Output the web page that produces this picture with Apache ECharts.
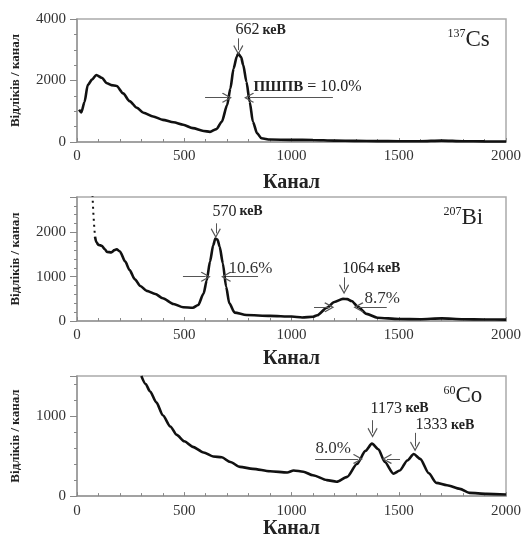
<!DOCTYPE html>
<html><head><meta charset="utf-8">
<script src="https://cdn.jsdelivr.net/npm/echarts@6/dist/echarts.min.js"></script>
<style>html,body{margin:0;padding:0;background:#fff}#c{width:526px;height:540px}</style>
</head><body><div id="c"></div>
<script>
// ---------- data (channel, counts per channel) ----------
const xMin = 0, xMax = 2000, xInterval = 500;

const csChannels = [10, 20, 35, 50, 70, 90, 115, 140, 160, 185, 215, 245, 280, 310, 355, 400, 450, 495, 540, 590, 620, 650, 675, 700, 715, 730, 745, 752, 765, 775, 790, 805, 820, 840, 860, 900, 1000, 1100, 1200, 1300, 1400, 1500, 1600, 1700, 1800, 1900, 2000];
const csCounts   = [1050, 960, 1300, 1850, 2030, 2180, 2090, 1910, 1850, 1820, 1580, 1330, 1110, 950, 830, 720, 640, 560, 450, 360, 330, 420, 660, 1200, 1740, 2390, 2780, 2880, 2760, 2500, 1960, 1310, 660, 280, 120, 80, 70, 65, 45, 35, 30, 25, 25, 45, 25, 20, 15];

const biTailChannels = [72, 76, 80, 84];
const biTailCounts   = [2850, 2450, 2150, 1900];
const biChannels = [84, 90, 100, 115, 130, 140, 160, 175, 185, 200, 225, 245, 270, 295, 325, 365, 400, 450, 495, 540, 565, 590, 605, 620, 635, 645, 655, 665, 680, 695, 710, 735, 790, 900, 1000, 1050, 1100, 1120, 1165, 1200, 1240, 1260, 1280, 1310, 1350, 1400, 1500, 1600, 1700, 1800, 1900, 2000];
const biCounts   = [1900, 1780, 1720, 1700, 1620, 1560, 1550, 1600, 1620, 1570, 1340, 1150, 940, 790, 680, 610, 515, 385, 310, 300, 360, 620, 920, 1340, 1710, 1860, 1840, 1680, 1300, 780, 400, 190, 135, 115, 100, 80, 95, 130, 300, 430, 500, 495, 450, 320, 160, 75, 45, 40, 60, 40, 35, 30];

const coChannels = [300, 320, 340, 370, 400, 435, 465, 500, 540, 590, 635, 675, 715, 760, 820, 900, 980, 1010, 1055, 1100, 1165, 1210, 1260, 1305, 1345, 1375, 1405, 1435, 1475, 1505, 1540, 1570, 1600, 1640, 1675, 1725, 1785, 1830, 1910, 2000];
const coCounts   = [1500, 1400, 1310, 1170, 1010, 870, 765, 685, 615, 545, 495, 485, 425, 365, 340, 310, 295, 320, 305, 260, 200, 180, 240, 400, 565, 655, 585, 425, 280, 320, 445, 525, 465, 285, 165, 135, 90, 40, 28, 20];

// y-axis ranges per panel
const yMaxes = [4000, 2800, 1500];
const yIntervals = [2000, 1000, 1000];

// ---------- annotations (data coordinates) ----------
// arrows: [x1, y1, x2, y2] — arrow head at (x2, y2)
const csArrows = [[752, 3370, 752, 2990], [597, 1440, 699, 1440], [1193, 1440, 802, 1440]];
const biArrows = [[647, 2205, 647, 1980], [494, 1000, 600, 1000], [844, 1000, 695, 1000],
                  [1245, 986, 1245, 716], [1105, 309, 1176, 309], [1444, 309, 1312, 309]];
const coArrows = [[1378, 948, 1378, 790], [1576, 790, 1576, 621], [1110, 464, 1310, 464], [1506, 464, 1445, 464]];
// texts: [x, y, rich text]
const csTexts = [[737, 3640, '{n|662} {k|кеВ}'], [820, 1790, '{b|ПШПВ}{n| = 10.0%}'], [1725, 3330, '{s|137}{e|Cs}']];
const biTexts = [[629, 2467, '{n|570} {k|кеВ}'], [704, 1180, '{p|10.6%}'], [1234, 1190, '{n|1064} {k|кеВ}'], [1338, 512, '{p|8.7%}'], [1706, 2330, '{s|207}{e|Bi}']];
const coTexts = [[1366, 1093, '{n|1173}{k| кеВ}'], [1576, 887, '{n|1333}{k| кеВ}'], [1110, 597, '{p|8.0%}'], [1706, 1250, '{s|60}{e|Co}']];

// ---------- chart ----------
const FONT = 'Liberation Serif';
const grids = [
  {left: 77, right: 20, top: 19, height: 123},
  {left: 77, right: 20, top: 197, height: 124},
  {left: 77, right: 20, top: 376, height: 122}
].map(g => Object.assign(g, {show: true, borderColor: '#aaa', borderWidth: 1.5, backgroundColor: 'transparent'}));
const xNameGaps = [31, 28, 22];

const xAxes = [0, 1, 2].map(i => ({
  type: 'value', gridIndex: i, min: xMin, max: xMax, interval: xInterval,
  name: 'Канал', nameLocation: 'middle', nameGap: xNameGaps[i],
  nameTextStyle: {fontFamily: FONT, fontSize: 20, fontWeight: 'bold', color: '#222'},
  axisLine: {lineStyle: {color: '#999', width: 1.5}},
  axisTick: {inside: true, length: 4, lineStyle: {color: '#888'}},
  minorTick: {show: true, splitNumber: 5, length: 3, lineStyle: {color: '#888'}},
  splitLine: {show: false},
  axisLabel: {fontFamily: FONT, fontSize: 15, color: '#333', margin: 7, formatter: v => String(v)}
}));
const yAxes = [0, 1, 2].map(i => ({
  type: 'value', gridIndex: i, min: 0, max: yMaxes[i], interval: yIntervals[i],
  name: 'Відліків / канал', nameLocation: 'middle', nameGap: 55,
  nameTextStyle: {fontFamily: FONT, fontSize: 13, fontWeight: 'bold', color: '#222'},
  axisLine: {show: true, lineStyle: {color: '#999', width: 1.5}},
  axisTick: {show: true, inside: false, length: 7, lineStyle: {color: '#888'}},
  minorTick: {show: true, splitNumber: i === 0 ? 4 : 5, length: 3, lineStyle: {color: '#888'}},
  splitLine: {show: false},
  axisLabel: {fontFamily: FONT, fontSize: 15, color: '#333', margin: 11, showMaxLabel: i === 0, formatter: v => String(v)}
}));

const arrowSym = 'path://M0,0L6,9L5,10L0,2.5L-5,10L-6,9Z';
const rich = {
  n: {fontFamily: FONT, fontSize: 16, color: '#222'},
  k: {fontFamily: FONT, fontSize: 14, fontWeight: 'bold', color: '#222'},
  b: {fontFamily: FONT, fontSize: 15, fontWeight: 'bold', color: '#222'},
  p: {fontFamily: FONT, fontSize: 17, color: '#333'},
  s: {fontFamily: FONT, fontSize: 12, color: '#222', verticalAlign: 'top'},
  e: {fontFamily: FONT, fontSize: 23, color: '#222', verticalAlign: 'bottom'}
};
function marks(arrows, texts) {
  return {
    markLine: {
      silent: true, animation: false, symbol: ['none', arrowSym], symbolSize: 10,
      lineStyle: {color: '#555', width: 1, type: 'solid'}, label: {show: false},
      emphasis: {disabled: true},
      data: arrows.map(a => [{coord: [a[0], a[1]]}, {coord: [a[2], a[3]]}])
    },
    markPoint: {
      silent: true, animation: false, symbol: 'circle', symbolSize: 1,
      itemStyle: {color: 'rgba(0,0,0,0)'},
      label: {show: true, position: 'right', distance: 0, fontFamily: FONT, color: '#222', rich: rich},
      data: texts.map(t => ({coord: [t[0], t[1]], value: 0, label: {formatter: t[2]}}))
    }
  };
}
function pairs(xs, ys) { return xs.map((x, i) => [x, ys[i]]); }
const lineStyleMain = {color: '#111', width: 2.6};
const base = {type: 'line', showSymbol: false, smooth: 0.25, smoothMonotone: 'x', animation: false, silent: true, clip: true};

const series = [
  Object.assign({}, base, {name: '137Cs', xAxisIndex: 0, yAxisIndex: 0, data: pairs(csChannels, csCounts), lineStyle: lineStyleMain}, marks(csArrows, csTexts)),
  Object.assign({}, base, {name: '207Bi tail', xAxisIndex: 1, yAxisIndex: 1, smooth: false, data: pairs(biTailChannels, biTailCounts), lineStyle: {color: '#111', width: 2, type: [2, 4]}}),
  Object.assign({}, base, {name: '207Bi', xAxisIndex: 1, yAxisIndex: 1, data: pairs(biChannels, biCounts), lineStyle: lineStyleMain}, marks(biArrows, biTexts)),
  Object.assign({}, base, {name: '60Co', xAxisIndex: 2, yAxisIndex: 2, data: pairs(coChannels, coCounts), lineStyle: lineStyleMain}, marks(coArrows, coTexts))
];

const chart = echarts.init(document.getElementById('c'), null, {renderer: 'canvas'});
chart.setOption({backgroundColor: '#fff', animation: false, grid: grids, xAxis: xAxes, yAxis: yAxes, series: series});
</script>
</body></html>
